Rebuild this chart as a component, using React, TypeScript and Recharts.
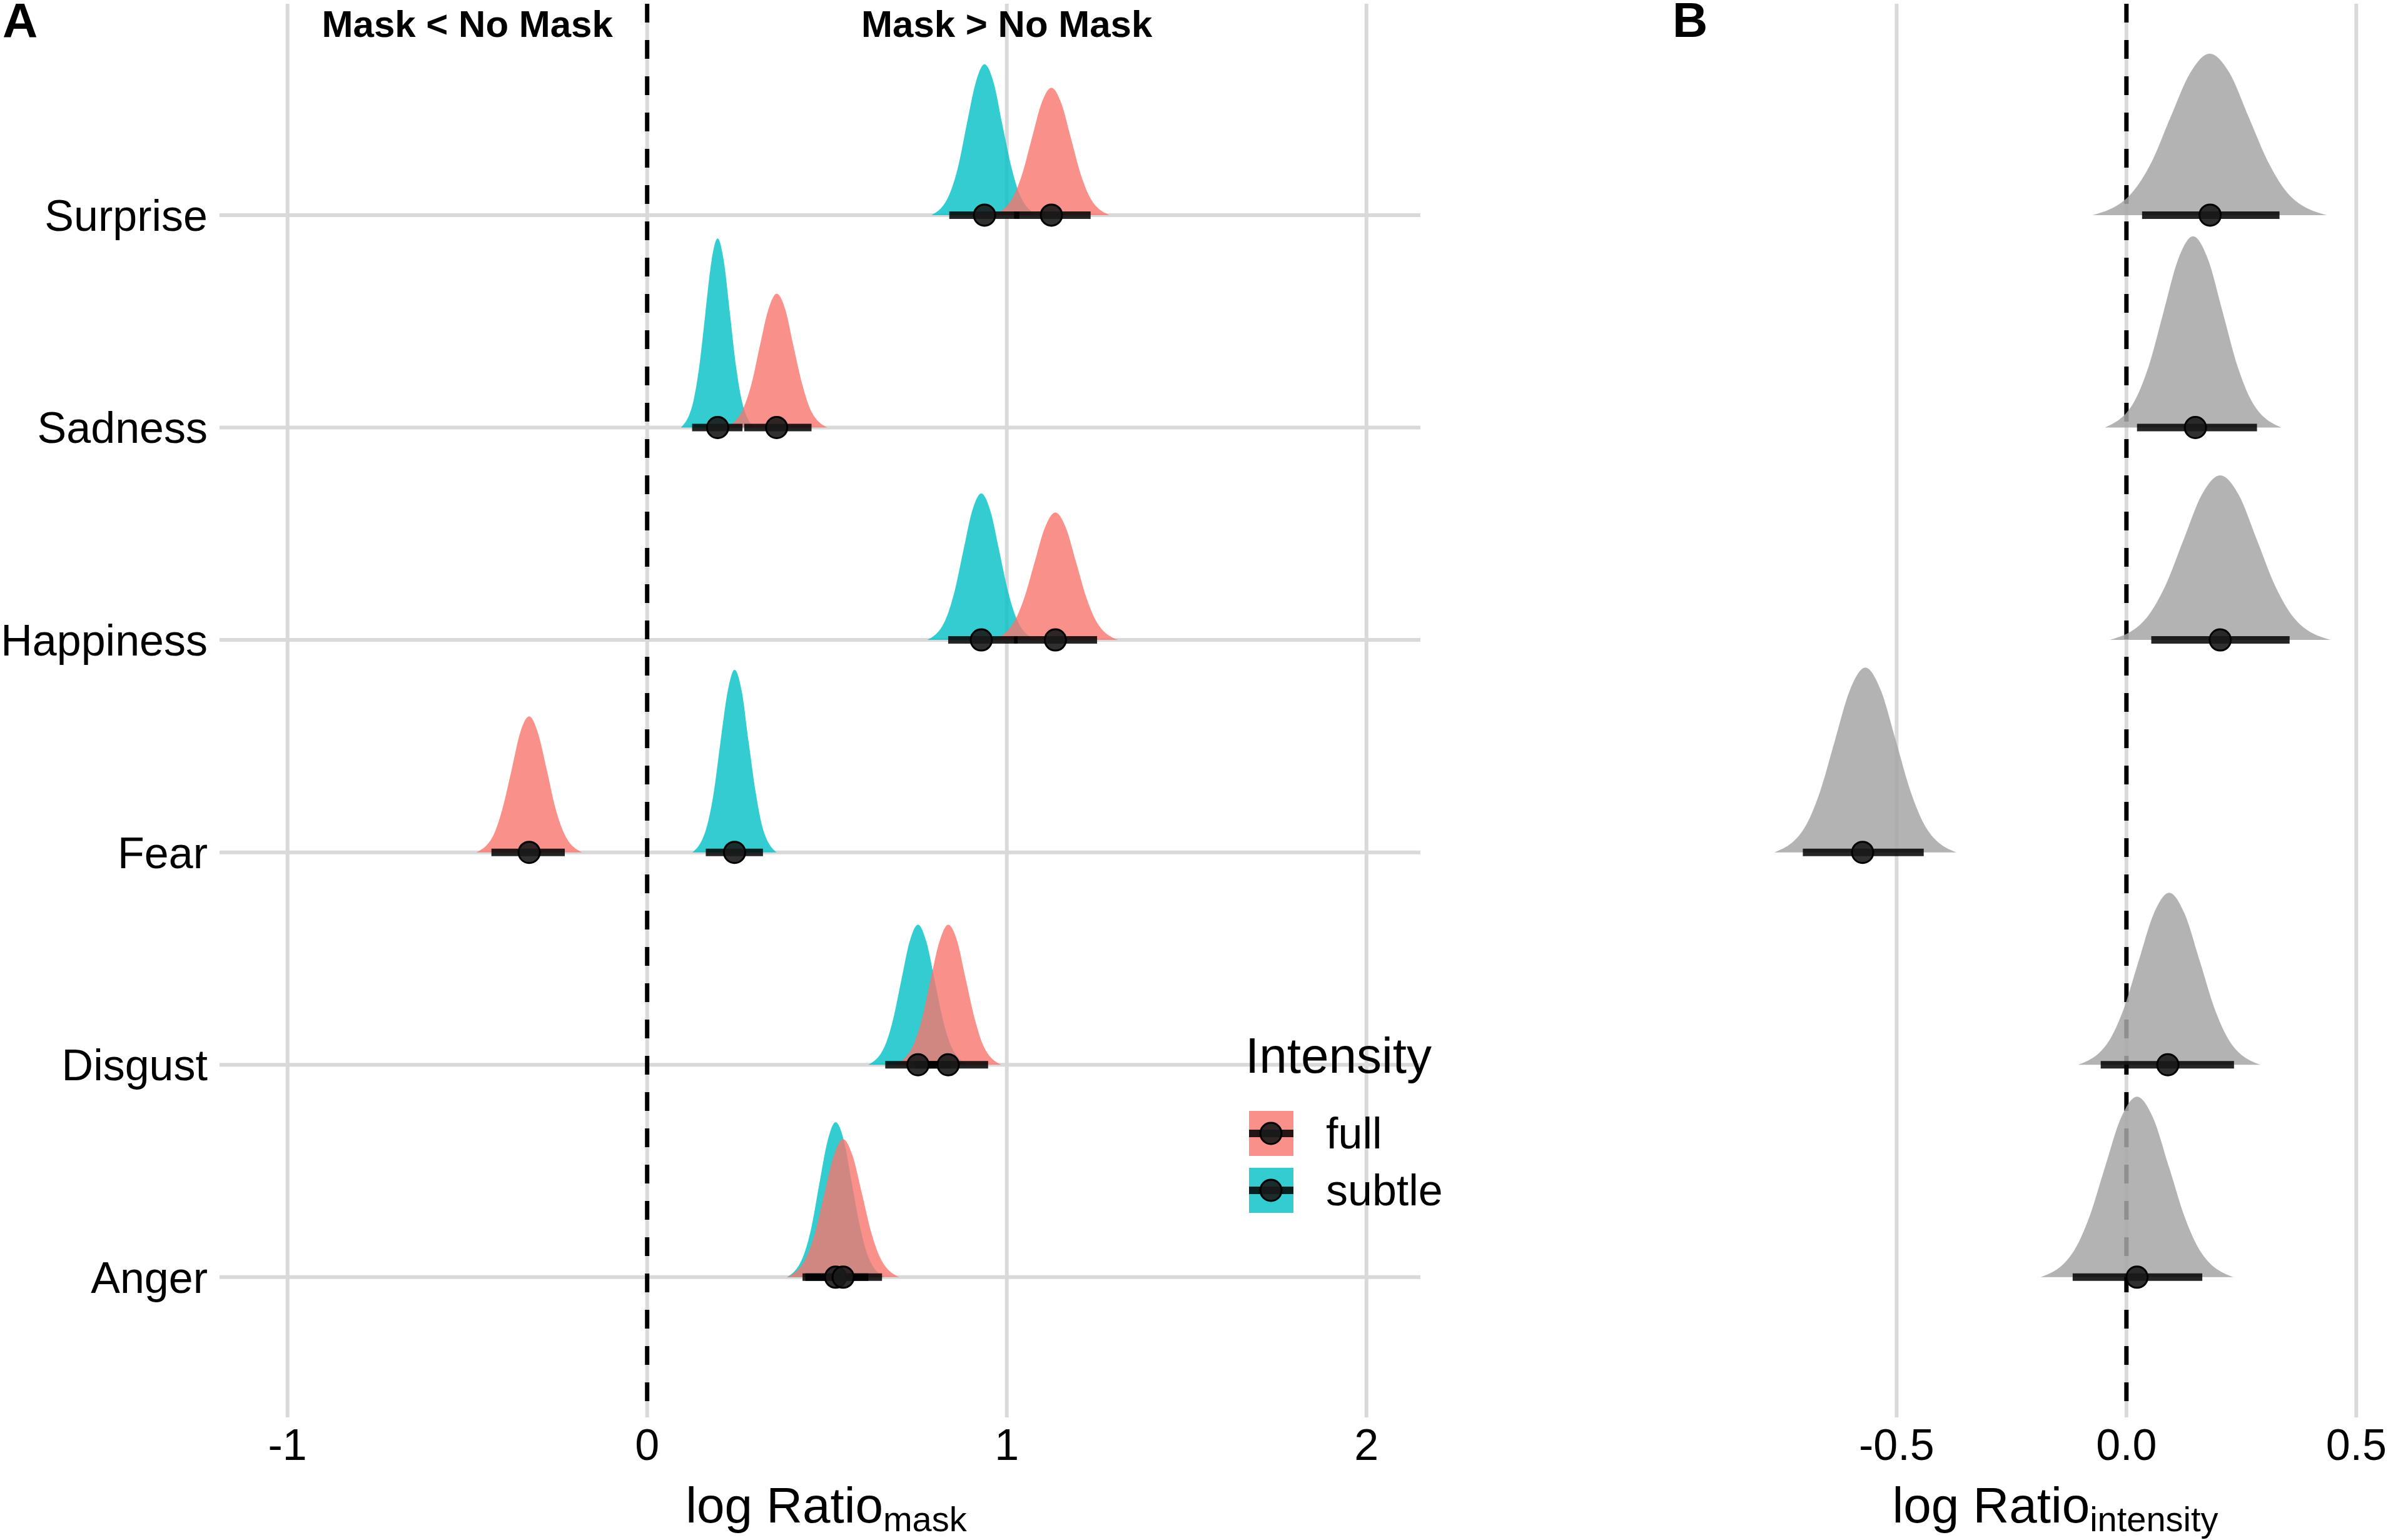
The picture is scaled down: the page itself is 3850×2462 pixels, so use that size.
import React from "react";
import {
  Area,
  CartesianGrid,
  ComposedChart,
  Line,
  Scatter,
  XAxis,
  YAxis,
} from "recharts";

type Pt = [number, number];

const emotions = ["Anger", "Disgust", "Fear", "Happiness", "Sadness", "Surprise"];
const intensities = ["full", "subtle"];
const intensityColors = ["#F8766D", "#00BFC4"];
const maskTicks = [-1, 0, 1, 2];
const intensityTicks = [-0.5, 0, 0.5];
const rowTicks = [1, 2, 3, 4, 5, 6];
const noEffect = [0];
const headerTexts = ["Mask < No Mask", "Mask > No Mask"];
const headerX = [-0.5, 1];

// ridge outlines, [x, height in rows]
const angerFull: Pt[] = [[0.389, 0], [0.441, 0.088], [0.467, 0.211], [0.493, 0.395], [0.519, 0.573], [0.545, 0.65], [0.571, 0.573], [0.597, 0.395], [0.623, 0.211], [0.649, 0.088], [0.701, 0]];
const disgustFull: Pt[] = [[0.69, 0], [0.739, 0.089], [0.764, 0.215], [0.788, 0.401], [0.813, 0.582], [0.837, 0.66], [0.862, 0.582], [0.886, 0.401], [0.911, 0.215], [0.935, 0.089], [0.984, 0]];
const fearFull: Pt[] = [[-0.475, 0], [-0.426, 0.086], [-0.402, 0.208], [-0.377, 0.388], [-0.353, 0.564], [-0.328, 0.64], [-0.304, 0.564], [-0.279, 0.388], [-0.255, 0.208], [-0.23, 0.086], [-0.181, 0]];
const happinessFull: Pt[] = [[0.961, 0], [1.019, 0.081], [1.048, 0.195], [1.077, 0.364], [1.106, 0.529], [1.135, 0.6], [1.164, 0.529], [1.193, 0.364], [1.222, 0.195], [1.251, 0.081], [1.309, 0]];
const sadnessFull: Pt[] = [[0.219, 0], [0.266, 0.085], [0.29, 0.205], [0.313, 0.382], [0.337, 0.556], [0.36, 0.63], [0.384, 0.556], [0.407, 0.382], [0.431, 0.205], [0.454, 0.085], [0.501, 0]];
const surpriseFull: Pt[] = [[0.962, 0], [1.016, 0.081], [1.043, 0.195], [1.07, 0.364], [1.097, 0.529], [1.124, 0.6], [1.151, 0.529], [1.178, 0.364], [1.205, 0.195], [1.232, 0.081], [1.286, 0]];

const angerSubtle: Pt[] = [[0.389, 0], [0.434, 0.099], [0.457, 0.237], [0.479, 0.443], [0.502, 0.644], [0.524, 0.73], [0.547, 0.644], [0.569, 0.443], [0.592, 0.237], [0.614, 0.099], [0.659, 0]];
const disgustSubtle: Pt[] = [[0.615, 0], [0.661, 0.089], [0.684, 0.215], [0.707, 0.401], [0.73, 0.582], [0.753, 0.66], [0.776, 0.582], [0.799, 0.401], [0.822, 0.215], [0.845, 0.089], [0.891, 0]];
const fearSubtle: Pt[] = [[0.126, 0], [0.165, 0.116], [0.185, 0.28], [0.204, 0.522], [0.224, 0.759], [0.243, 0.86], [0.263, 0.759], [0.282, 0.522], [0.302, 0.28], [0.321, 0.116], [0.36, 0]];
const happinessSubtle: Pt[] = [[0.779, 0], [0.829, 0.093], [0.854, 0.224], [0.879, 0.419], [0.904, 0.609], [0.929, 0.69], [0.954, 0.609], [0.979, 0.419], [1.004, 0.224], [1.029, 0.093], [1.079, 0]];
const sadnessSubtle: Pt[] = [[0.094, 0], [0.128, 0.12], [0.145, 0.289], [0.162, 0.54], [0.179, 0.785], [0.196, 0.89], [0.213, 0.785], [0.23, 0.54], [0.247, 0.289], [0.264, 0.12], [0.298, 0]];
const surpriseSubtle: Pt[] = [[0.791, 0], [0.84, 0.096], [0.865, 0.231], [0.889, 0.431], [0.914, 0.626], [0.938, 0.71], [0.963, 0.626], [0.987, 0.431], [1.012, 0.231], [1.036, 0.096], [1.085, 0]];

// ridge outlines for panel B
const angerIntensity: Pt[] = [[-0.187, 0], [-0.117, 0.115], [-0.082, 0.276], [-0.047, 0.516], [-0.012, 0.75], [0.023, 0.85], [0.058, 0.75], [0.093, 0.516], [0.128, 0.276], [0.163, 0.115], [0.233, 0]];
const disgustIntensity: Pt[] = [[-0.105, 0], [-0.039, 0.109], [-0.006, 0.263], [0.027, 0.492], [0.06, 0.714], [0.093, 0.81], [0.126, 0.714], [0.159, 0.492], [0.192, 0.263], [0.225, 0.109], [0.291, 0]];
const fearIntensity: Pt[] = [[-0.766, 0], [-0.7, 0.117], [-0.667, 0.283], [-0.634, 0.528], [-0.601, 0.767], [-0.568, 0.87], [-0.535, 0.767], [-0.502, 0.528], [-0.469, 0.283], [-0.436, 0.117], [-0.37, 0]];
const happinessIntensity: Pt[] = [[-0.036, 0], [0.044, 0.105], [0.084, 0.252], [0.124, 0.47], [0.164, 0.684], [0.204, 0.775], [0.244, 0.684], [0.284, 0.47], [0.324, 0.252], [0.364, 0.105], [0.444, 0]];
const sadnessIntensity: Pt[] = [[-0.047, 0], [0.017, 0.122], [0.049, 0.293], [0.081, 0.546], [0.113, 0.794], [0.145, 0.9], [0.177, 0.794], [0.209, 0.546], [0.241, 0.293], [0.273, 0.122], [0.337, 0]];
const surpriseIntensity: Pt[] = [[-0.074, 0], [0.011, 0.103], [0.054, 0.247], [0.096, 0.461], [0.139, 0.67], [0.181, 0.76], [0.224, 0.67], [0.266, 0.461], [0.309, 0.247], [0.351, 0.103], [0.436, 0]];

const fullCurves = [angerFull, disgustFull, fearFull, happinessFull, sadnessFull, surpriseFull];
const subtleCurves = [angerSubtle, disgustSubtle, fearSubtle, happinessSubtle, sadnessSubtle, surpriseSubtle];
const intensityCurves = [angerIntensity, disgustIntensity, fearIntensity, happinessIntensity, sadnessIntensity, surpriseIntensity];

// medians and 95% intervals, Anger .. Surprise
const fullMedian = [0.545, 0.837, -0.328, 1.135, 0.36, 1.124];
const fullLow = [0.44, 0.745, -0.433, 1.02, 0.27, 1.02];
const fullHigh = [0.653, 0.948, -0.229, 1.251, 0.457, 1.233];
const subtleMedian = [0.524, 0.753, 0.243, 0.929, 0.196, 0.938];
const subtleLow = [0.432, 0.662, 0.163, 0.837, 0.125, 0.84];
const subtleHigh = [0.615, 0.845, 0.322, 1.03, 0.265, 1.035];
const intensityMedian = [0.023, 0.09, -0.574, 0.204, 0.15, 0.182];
const intensityLow = [-0.117, -0.056, -0.704, 0.054, 0.023, 0.034];
const intensityHigh = [0.165, 0.234, -0.441, 0.355, 0.284, 0.333];

const FONT = "'Liberation Sans', Arial, Helvetica, sans-serif";
const GRID = "#D9D9D9";
const GREY_FILL = "#A7A7A7";
const Y_DOMAIN: [number, number] = [0.34, 6.995];

function IntervalDot(props: any) {
  const { cx, cy } = props;
  if (cx == null || cy == null) return null;
  return <circle cx={cx} cy={cy} r={17} fill="#1a1a1a" fillOpacity={0.9} stroke="#000" strokeWidth={3} />;
}

function HeaderText(props: any) {
  const { cx, cy, payload } = props;
  return (
    <text x={cx} y={cy} textAnchor="middle" dominantBaseline="central" fontFamily={FONT} fontWeight="bold" fontSize={60} fill="#000">
      {payload?.t}
    </text>
  );
}

function AxisTitle(props: any) {
  const { viewBox, sub } = props;
  if (!viewBox) return null;
  const { x, y, width } = viewBox;
  return (
    <text x={x + width / 2 + 10} y={y + 168} textAnchor="middle" fontFamily={FONT} fontSize={80} fill="#000">
      log Ratio
      <tspan fontSize={56} dy={14}>{sub}</tspan>
    </text>
  );
}

function ridgeAreas(curves: Pt[][], color: string, opacity: number, tag: string) {
  return curves.map((curve, i) => (
    <Area
      key={`${tag}-${i}`}
      data={curve.map(([x, h]) => ({ x, h }))}
      dataKey={(d: any) => [i + 1, i + 1 + d.h]}
      type="monotone"
      stroke="none"
      fill={color}
      fillOpacity={opacity}
      isAnimationActive={false}
      activeDot={false}
    />
  ));
}

function intervalLines(low: number[], high: number[], tag: string) {
  return low.map((lo, i) => (
    <Line
      key={`${tag}-${i}`}
      data={[
        { x: lo, y: i + 1 },
        { x: high[i], y: i + 1 },
      ]}
      dataKey="y"
      type="linear"
      stroke="#000"
      strokeOpacity={0.85}
      strokeWidth={12}
      dot={false}
      activeDot={false}
      isAnimationActive={false}
    />
  ));
}

function medianDots(medians: number[], tag: string) {
  return (
    <Scatter
      key={tag}
      data={medians.map((m, i) => ({ x: m, y: i + 1 }))}
      shape={IntervalDot}
      isAnimationActive={false}
    />
  );
}

function PanelA() {
  return (
    <ComposedChart width={2300} height={2462} margin={{ top: 6, right: 29, bottom: 0, left: 0 }}>
      <CartesianGrid stroke={GRID} strokeWidth={6} horizontalValues={rowTicks} verticalValues={maskTicks} />
      <CartesianGrid horizontal={false} verticalValues={noEffect} stroke="#000" strokeWidth={7} strokeDasharray="30 28" />
      <XAxis
        type="number"
        dataKey="x"
        domain={[-1.189, 2.15]}
        ticks={maskTicks}
        allowDataOverflow
        interval={0}
        height={196}
        axisLine={false}
        tickLine={false}
        tickSize={0}
        tickMargin={18}
        tick={{ fontSize: 70, fill: "#000", fontFamily: FONT }}
        label={<AxisTitle sub="mask" />}
      />
      <YAxis
        type="number"
        dataKey="y"
        domain={Y_DOMAIN}
        ticks={rowTicks}
        allowDataOverflow
        interval={0}
        width={351}
        axisLine={false}
        tickLine={false}
        tickSize={0}
        tickMargin={19}
        tickFormatter={(v: number) => emotions[v - 1]}
        tick={{ fontSize: 70, fill: "#000", fontFamily: FONT }}
      />
      {ridgeAreas(subtleCurves, intensityColors[1], 0.8, "subtle")}
      {ridgeAreas(fullCurves, intensityColors[0], 0.8, "full")}
      {intervalLines(subtleLow, subtleHigh, "subtle-ci")}
      {intervalLines(fullLow, fullHigh, "full-ci")}
      {medianDots(subtleMedian, "subtle-med")}
      {medianDots(fullMedian, "full-med")}
      <Scatter
        data={headerTexts.map((t, i) => ({ x: headerX[i], y: 6.9, t }))}
        shape={HeaderText}
        isAnimationActive={false}
      />
    </ComposedChart>
  );
}

function PanelB() {
  return (
    <ComposedChart width={1190} height={2462} margin={{ top: 6, right: 7, bottom: 0, left: 0 }}>
      <CartesianGrid stroke={GRID} strokeWidth={6} horizontalValues={rowTicks} verticalValues={intensityTicks} />
      <CartesianGrid horizontal={false} verticalValues={noEffect} stroke="#000" strokeWidth={7} strokeDasharray="30 28" />
      <XAxis
        type="number"
        dataKey="x"
        domain={[-0.94, 0.603]}
        ticks={intensityTicks}
        allowDataOverflow
        interval={0}
        height={196}
        axisLine={false}
        tickLine={false}
        tickSize={0}
        tickMargin={18}
        tickFormatter={(v: number) => v.toFixed(1)}
        tick={{ fontSize: 70, fill: "#000", fontFamily: FONT }}
        label={<AxisTitle sub="intensity" />}
      />
      <YAxis
        type="number"
        dataKey="y"
        domain={Y_DOMAIN}
        ticks={rowTicks}
        allowDataOverflow
        width={49}
        axisLine={false}
        tickLine={false}
        tick={false}
      />
      {ridgeAreas(intensityCurves, GREY_FILL, 0.86, "intensity")}
      {intervalLines(intensityLow, intensityHigh, "intensity-ci")}
      {medianDots(intensityMedian, "intensity-med")}
    </ComposedChart>
  );
}

function IntensityLegend() {
  return (
    <svg width={400} height={320} style={{ position: "absolute", left: 1980, top: 1640 }}>
      <text x={11} y={75} fontFamily={FONT} fontSize={80} fill="#000">
        Intensity
      </text>
      {intensities.map((name, i) => {
        const top = 136 + i * 91;
        return (
          <g key={name}>
            <rect x={17} y={top} width={71} height={72} fill={intensityColors[i]} fillOpacity={0.8} />
            <line x1={17} x2={88} y1={top + 36} y2={top + 36} stroke="#000" strokeOpacity={0.85} strokeWidth={12} />
            <circle cx={52} cy={top + 36} r={17} fill="#1a1a1a" fillOpacity={0.9} stroke="#000" strokeWidth={3} />
            <text x={140} y={top + 60} fontFamily={FONT} fontSize={70} fill="#000">
              {name}
            </text>
          </g>
        );
      })}
    </svg>
  );
}

export default function App() {
  return (
    <div style={{ position: "absolute", left: 0, top: 0, width: 3850, height: 2462, background: "#fff", fontFamily: FONT }}>
      <div style={{ position: "absolute", left: 0, top: 0 }}>
        <PanelA />
      </div>
      <div style={{ position: "absolute", left: 2660, top: 0 }}>
        <PanelB />
      </div>
      <IntensityLegend />
      <svg width={3850} height={100} style={{ position: "absolute", left: 0, top: 0, pointerEvents: "none" }}>
        <text x={4} y={60} fontFamily={FONT} fontWeight="bold" fontSize={78} fill="#000">
          A
        </text>
        <text x={2674} y={59} fontFamily={FONT} fontWeight="bold" fontSize={78} fill="#000">
          B
        </text>
      </svg>
    </div>
  );
}
